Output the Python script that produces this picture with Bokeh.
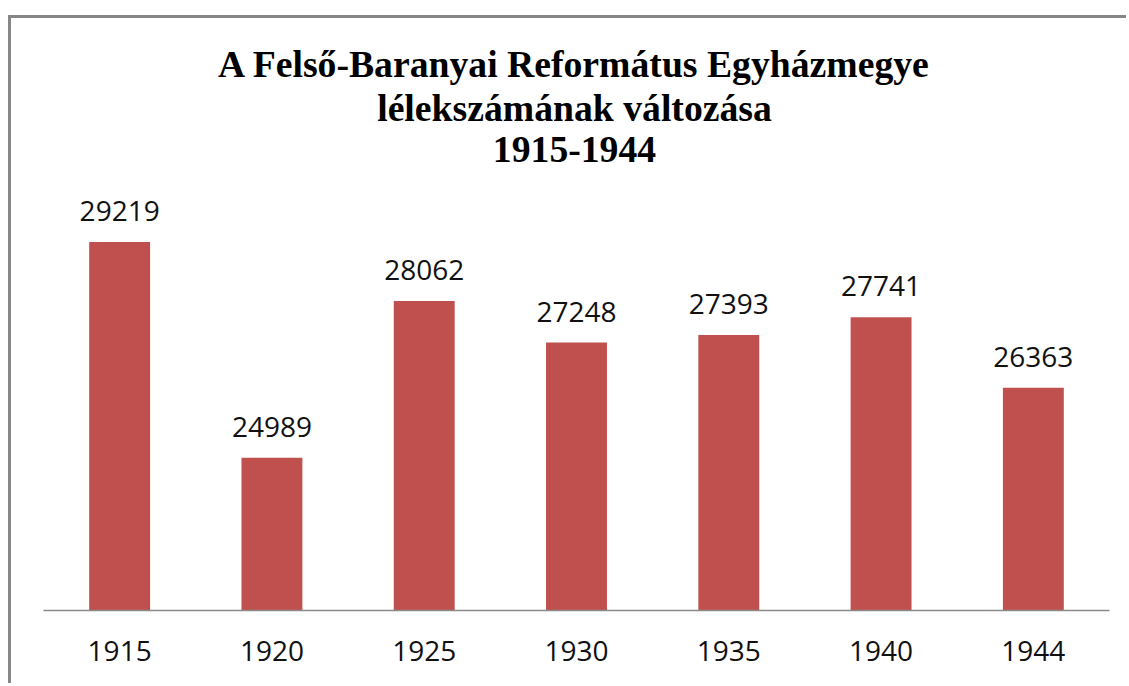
from bokeh.plotting import figure
from bokeh.models import Range1d, FactorRange, ColumnDataSource
from bokeh.core.properties import value
from bokeh.embed import file_html
from bokeh.resources import INLINE

years = ["1915", "1920", "1925", "1930", "1935", "1940", "1944"]
population = [29219, 24989, 28062, 27248, 27393, 27741, 26363]
title_lines = ["A Felső-Baranyai Református Egyházmegye", "lélekszámának változása", "1915-1944"]

# layout (pixels)
W, H = 1118, 668
BOTTOM = 76
PLOT_AREA_H = 408.5          # height of the 22000..30000 value band
Y_MIN, Y_AXIS_MAX = 22000, 30000
frame_h = H - BOTTOM
y_top = Y_MIN + (Y_AXIS_MAX - Y_MIN) * frame_h / PLOT_AREA_H

src = ColumnDataSource(dict(year=years, pop=population, label=[str(v) for v in population]))

p = figure(width=W, height=H, output_backend="svg", toolbar_location=None,
           x_range=FactorRange(factors=years, range_padding=0),
           y_range=Range1d(Y_MIN, y_top),
           min_border_left=32, min_border_right=20, min_border_top=0, min_border_bottom=BOTTOM,
           styles={"margin-left": "8px", "margin-top": "15px",
                   "border-left": "3px solid #878787", "border-top": "3px solid #878787"})
p.outline_line_color = None
p.xgrid.visible = False
p.ygrid.visible = False
p.yaxis.visible = False
p.background_fill_color = "white"
p.border_fill_color = "white"

p.vbar(x="year", top="pop", bottom=Y_MIN, width=0.4, source=src,
       fill_color="#C0504D", line_color=None)

p.text(x="year", y="pop", text="label", source=src, y_offset=-31,
       text_align="center", text_baseline="alphabetic",
       text_font=value("Open Sans"), text_font_size="28px", text_color="#111111")

# chart title (three centred lines at the top of the chart area)
mid = years[len(years) // 2]
title_src = ColumnDataSource(dict(x=[mid] * 3, y=[y_top] * 3, text=title_lines,
                                  yoff=[45, 89, 131]))
p.text(x="x", y="y", text="text", y_offset="yoff", x_offset=-2, source=title_src,
       text_align="center", text_baseline="alphabetic",
       text_font=value("Liberation Serif"), text_font_style="bold",
       text_font_size="37.7px", text_color="black")

ax = p.xaxis[0]
ax.axis_line_color = "#8a8a8a"
ax.axis_line_width = 1.5
ax.major_tick_line_color = None
ax.minor_tick_line_color = None
ax.major_label_text_font = "Open Sans"
ax.major_label_text_font_size = "28px"
ax.major_label_text_color = "#111111"
ax.major_label_standoff = 24

open("out.html", "w").write(file_html(p, INLINE))
